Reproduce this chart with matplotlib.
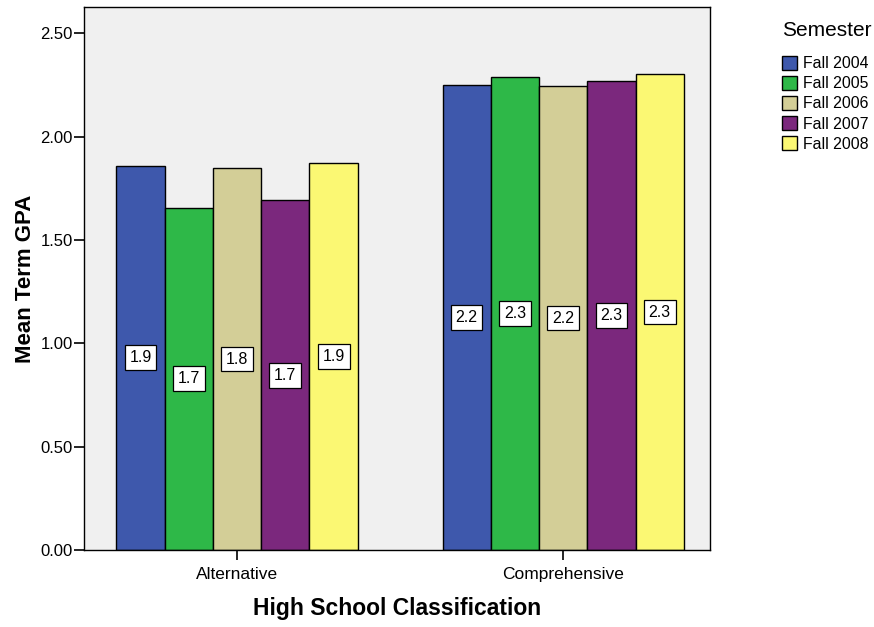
import numpy as np
import matplotlib
matplotlib.use("Agg")
import matplotlib.pyplot as plt

plt.rcParams['font.family'] = ['Liberation Sans', 'DejaVu Sans']

# data
categories = ["Alternative", "Comprehensive"]
semesters = ["Fall 2004", "Fall 2005", "Fall 2006", "Fall 2007", "Fall 2008"]
gpa_alternative = [1.860, 1.657, 1.848, 1.691, 1.870]
gpa_comprehensive = [2.248, 2.287, 2.243, 2.267, 2.301]
colors = ["#3E58AC", "#2EB848", "#D3CE97", "#7B287D", "#FBF873"]

fig = plt.figure(figsize=(8.74, 6.27), dpi=100)
ax = fig.add_axes([0.0958, 0.1228, 0.7166, 0.8660])
ax.set_facecolor("#F0F0F0")

x = np.arange(len(categories))
width = 0.148
values = np.array([gpa_alternative, gpa_comprehensive])

for i, sem in enumerate(semesters):
    pos = x + (i - 2) * width
    bars = ax.bar(pos, values[:, i], width, color=colors[i], edgecolor="black",
                  linewidth=1.0, label=sem, zorder=2)
    for b, v in zip(bars, values[:, i]):
        ax.text(b.get_x() + b.get_width() / 2, v / 2, f"{v:.1f}",
                ha="center", va="center", fontsize=11.5, zorder=3,
                bbox=dict(boxstyle="square,pad=0.3", fc="white", ec="black", lw=0.9))

ax.set_xlim(-0.47, 1.45)
ax.set_ylim(0, 2.627)
ax.set_xticks(x)
ax.set_xticklabels(categories, fontsize=12.5)
ax.set_yticks([0, 0.5, 1.0, 1.5, 2.0, 2.5])
ax.set_yticklabels(["0.00", "0.50", "1.00", "1.50", "2.00", "2.50"], fontsize=12)
ax.tick_params(direction="out", length=7, width=1.2)
ax.tick_params(axis="y", pad=1)
ax.tick_params(axis="x", pad=5)

for s in ax.spines.values():
    s.set_linewidth(1.0)

ax.set_ylabel("Mean Term GPA", fontsize=16, fontweight="bold", labelpad=3)
ax.set_xlabel("High School Classification", fontsize=16.5, fontweight="bold", labelpad=11)

leg = fig.legend(loc="upper left", bbox_to_anchor=(0.878, 0.99), frameon=False,
                 title="Semester", fontsize=11.4, title_fontsize=15,
                 handlelength=0.95, handleheight=0.95, handletextpad=0.4,
                 labelspacing=0.3, alignment="left")
leg._legend_box.sep = 12

fig.savefig("out.png", dpi=100)
